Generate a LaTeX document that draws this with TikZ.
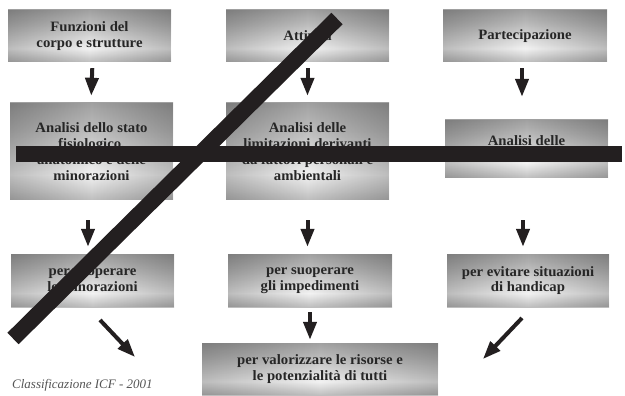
\documentclass[tikz,border=0pt]{standalone}
\usepackage{fontspec}
\setmainfont{Liberation Serif}
\newfontfamily\boxfont{Liberation Serif}[FakeStretch=1.03]
\usetikzlibrary{arrows.meta,fadings}
\definecolor{gA}{HTML}{666666}
\definecolor{gB}{HTML}{F2F2F2}
\definecolor{gC}{HTML}{BBBBBB}
\definecolor{gD}{HTML}{808080}
\definecolor{txt}{HTML}{262626}
\definecolor{barcol}{HTML}{231F20}
\definecolor{capcol}{HTML}{555555}
\pgfdeclareverticalshading{boxshade}{100bp}{color(0bp)=(gA); color(10bp)=(gA!80!gB); color(38bp)=(gB); color(62bp)=(gC); color(92bp)=(gD); color(100bp)=(gD)}
\tikzfading[name=edgefade, left color=transparent!78, right color=transparent!78, middle color=transparent!100]
\tikzset{
  box/.style={shading=boxshade, shading angle=0, minimum width=163pt, inner sep=0pt,
    align=center, text=txt, font=\boxfont\bfseries\fontsize{14.3}{15.8}\selectfont,
    path picture={\fill[black, path fading=edgefade] (path picture bounding box.south west) rectangle (path picture bounding box.north east);}},
  flow/.style={line width=4pt, draw=barcol, -{Triangle[length=18pt,width=13pt]}},
  bigbar/.style={line width=16pt, draw=barcol},
  caption/.style={font=\itshape\fontsize{13}{15}\selectfont, text=capcol}
}
\begin{document}
\begin{tikzpicture}[x=1pt,y=-1pt]
\useasboundingbox (0,0) rectangle (625,396);
% row 1
\node[box, minimum height=52pt] (A1) at (89.5,36) {Funzioni del\\corpo e strutture};
\node[box, minimum height=52pt] (B1) at (307.5,36) {Attività};
\node[box, minimum height=52pt, minimum width=164pt] (C1) at (525,36) {Partecipazione};
% row 2
\node[box, minimum height=97pt] (A2) at (91.5,151.5) {Analisi dello stato\\fisiologico,\\anatomico e delle\\minorazioni};
\node[box, minimum height=97pt] (B2) at (307.5,151.5) {Analisi delle\\limitazioni derivanti\\da fattori personali e\\ambientali};
\node[box, minimum height=58pt] (C2) at (526.5,149) {Analisi delle\\restrizioni};
% row 3
\node[box, minimum height=53pt] (A3) at (92.5,280.5) {per suoperare\\le minorazioni};
\node[box, minimum height=53pt, minimum width=164pt] (B3) at (310,280.5) {per suoperare\\gli impedimenti};
\node[box, minimum height=53pt, minimum width=162pt] (C3) at (528,280.5) {per evitare situazioni\\di handicap};
% bottom
\node[box, minimum height=52pt, minimum width=236pt] (D) at (320,369) {per valorizzare le risorse e\\le potenzialità di tutti};
% caption
\node[caption, anchor=west, inner sep=0pt] (cap) at (12,385) {Classificazione ICF - 2001};
% vertical arrows
\draw[flow, shorten <=6pt, shorten >=7pt] ([xshift=3pt]A1.south) -- ([xshift=1.5pt]A1.south |- A2.north);
\draw[flow, shorten <=6pt, shorten >=7pt] (B1.south) -- (B1.south |- B2.north);
\draw[flow, shorten <=6pt, shorten >=23pt] ([xshift=-3pt]C1.south) -- ([xshift=-3pt]C1.south |- C2.north);
\draw[flow, shorten <=20pt, shorten >=7pt] ([xshift=-3.5pt]A2.south) -- ([xshift=-3.5pt]A2.south |- A3.north);
\draw[flow, shorten <=20pt, shorten >=7pt] (B2.south) -- (B2.south |- B3.north);
\draw[flow, shorten <=42pt, shorten >=7pt] ([xshift=-3.5pt]C2.south) -- ([xshift=-3.5pt]C2.south |- C3.north);
\draw[flow, shorten <=5pt, shorten >=3pt] (B3.south) -- (B3.south |- D.north);
% diagonal arrows
\coordinate (a3s) at (100,320);
\coordinate (a3e) at (135,357);
\coordinate (c3s) at (522,318);
\coordinate (c3e) at (483,359);
\draw[flow] (a3s) -- (a3e);
\draw[flow] (c3s) -- (c3e);
% crossing bars
\coordinate (h1) at (16,154.5);
\coordinate (h2) at (622,154.5);
\coordinate (d1) at (13,338.5);
\coordinate (d2) at (337,18.5);
\draw[bigbar] (h1) -- (h2);
\draw[bigbar] (d1) -- (d2);
\end{tikzpicture}
\end{document}
